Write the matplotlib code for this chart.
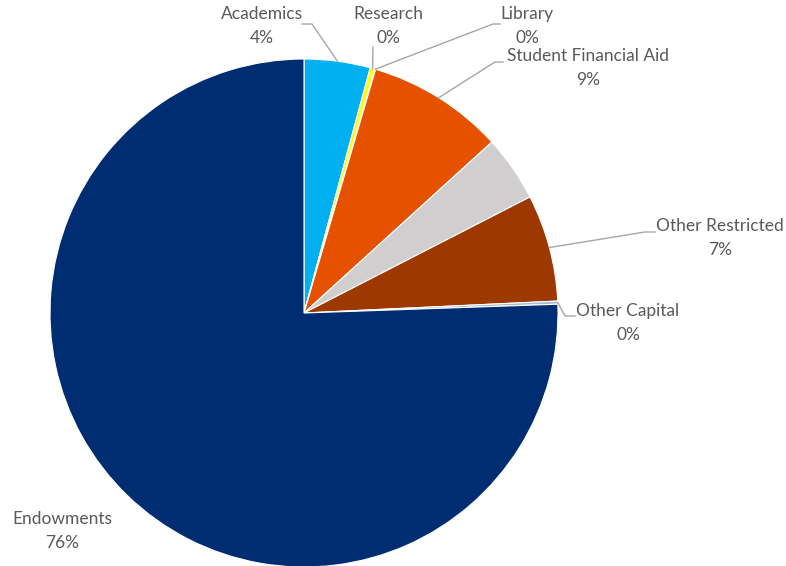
import numpy as np
import matplotlib
matplotlib.use("Agg")
import matplotlib.pyplot as plt

# slice data, clockwise from 12 o'clock
categories = ["Academics", "Research", "Library", "Student Financial Aid", "Other",
              "Other Restricted", "Other Capital", "Endowments"]
values = [4.2, 0.3, 0.05, 8.7, 4.2, 6.8, 0.2, 75.55]
colors = ["#00B0F0", "#FFFF00", "#FFC000", "#E65100", "#D0CECE",
          "#9C3800", "#A9BCD0", "#002D72"]
show_label = [True, True, True, True, False, True, True, True]

W, H = 786, 566
CX, CY, R = 304, 313, 254

fig = plt.figure(figsize=(W / 100, H / 100), dpi=100)
ax = fig.add_axes([0, 0, 1, 1])


def px(x, y):
    # image pixel -> data coords
    return x, H - y


wedges, _ = ax.pie(values, colors=colors, startangle=90, counterclock=False,
                   center=px(CX, CY), radius=R, frame=True,
                   wedgeprops=dict(edgecolor="white", linewidth=0.8))
ax.set_xlim(0, W)
ax.set_ylim(0, H)
ax.set_aspect("equal")
ax.axis("off")

# label placement: text centre and leader elbow points (pixels)
label_pos = {
    "Academics": ((262, 26), [(312, 24), (302, 24)]),
    "Research": ((388, 26), [(373, 47)]),
    "Library": ((527, 26), [(493, 24), (500, 24)]),
    "Student Financial Aid": ((588, 68), [(495, 62), (503, 62)]),
    "Other Restricted": ((720, 238), [(645, 232), (655, 232)]),
    "Other Capital": ((628, 323), [(565, 316), (575, 316)]),
    "Endowments": ((62, 531), []),
}

text_color = "#595959"
line_color = "#A6A6A6"

total = sum(values)
for w, name, v, show in zip(wedges, categories, values, show_label):
    if not show:
        continue
    (tx, ty), elbow = label_pos[name]
    pct = round(v / total * 100)
    ax.text(*px(tx, ty), f"{name}\n{pct}%", ha="center", va="center",
            fontsize=12.5, color=text_color, family="Lato", linespacing=1.55)
    if elbow:
        mid = np.deg2rad((w.theta1 + w.theta2) / 2)
        ax_, ay_ = px(CX, CY)
        pts = [(ax_ + R * np.cos(mid), ay_ + R * np.sin(mid))] + [px(x, y) for x, y in elbow]
        xs, ys = zip(*pts)
        ax.plot(xs, ys, color=line_color, lw=1)

fig.savefig("out.png", dpi=100)
